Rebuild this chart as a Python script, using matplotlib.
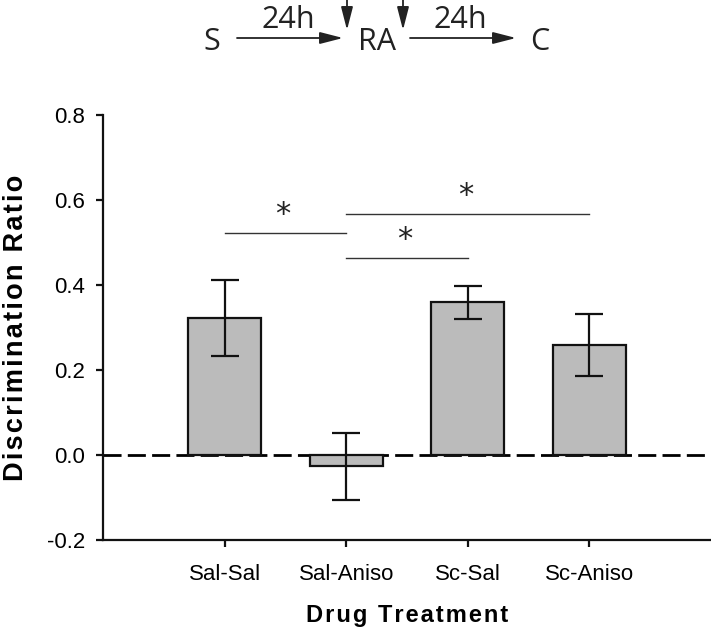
import numpy as np
import matplotlib
matplotlib.use('Agg')
import matplotlib.pyplot as plt
from matplotlib.patches import FancyArrowPatch

plt.rcParams['font.family'] = ['Liberation Sans', 'DejaVu Sans']
plt.rcParams['lines.scale_dashes'] = False

groups = ['Sal-Sal', 'Sal-Aniso', 'Sc-Sal', 'Sc-Aniso']
ratio = [0.323, -0.027, 0.359, 0.259]
sem = [0.089, 0.078, 0.039, 0.072]

# significance brackets: (from group, to group, height)
sig_pairs = [(0, 1, 0.522), (1, 3, 0.566), (1, 2, 0.463)]

W, H = 711, 633
fig = plt.figure(figsize=(W / 100, H / 100), dpi=100)
ax = fig.add_axes([103 / W, 1 - 540 / H, (711 - 103) / W, (540 - 115) / H])

x = np.arange(len(groups))
ax.axhline(0, color='black', lw=2, dashes=(13, 4.5), zorder=1)
ax.bar(x, ratio, width=0.6, color='#bbbbbb', edgecolor='#111111', linewidth=1.6, zorder=2)
ax.errorbar(x, ratio, yerr=sem, fmt='none', ecolor='#111111', elinewidth=1.6,
            capsize=10, capthick=1.6, zorder=3)

for a, b, h in sig_pairs:
    ax.plot([x[a], x[b]], [h, h], color='#333333', lw=1.0, zorder=3)
    ax.text((x[a] + x[b]) / 2 - 0.02, h + 0.01, '*', ha='center', va='bottom',
            fontsize=22, family='DejaVu Sans', color='#222222')

ax.set_xlim(-1, 4)
ax.set_ylim(-0.2, 0.8)
ax.set_yticks([-0.2, 0.0, 0.2, 0.4, 0.6, 0.8])
ax.set_yticklabels(['-0.2', '0.0', '0.2', '0.4', '0.6', '0.8'])
ax.set_xticks(x)
ax.set_xticklabels(groups)
ax.tick_params(axis='both', direction='out', length=5, width=1.6, labelsize=16, color='#111111')
ax.tick_params(axis='y', pad=8)
ax.tick_params(axis='x', pad=12)
for side in ['top', 'right']:
    ax.spines[side].set_visible(False)
for side in ['left', 'bottom']:
    ax.spines[side].set_linewidth(1.6)
    ax.spines[side].set_color('#111111')

hair = '\u200a'
ax.set_ylabel(hair.join('Discrimination Ratio'), fontsize=19.5, fontweight='bold', labelpad=13)
ax.set_xlabel(hair.join('Drug Treatment'), fontsize=17, fontweight='bold', labelpad=14)

# schematic at the top
ty = 1 - 42 / H
dfont = dict(fontsize=22, family='Open Sans', color='#222222', va='center', ha='center')
fig.text(212 / W, ty, 'S', **dfont)
fig.text(377 / W, ty, 'RA', **dfont)
fig.text(540 / W, ty, 'C', **dfont)
fig.text(288 / W, 1 - 20 / H, '24h', **dfont)
fig.text(460 / W, 1 - 20 / H, '24h', **dfont)
arr = dict(arrowstyle='-|>,head_length=0.7,head_width=0.18', mutation_scale=20,
           color='#222222', lw=1.3, shrinkA=0, shrinkB=0)
ay = 1 - 38 / H
fig.add_artist(FancyArrowPatch((237 / W, ay), (343 / W, ay), transform=fig.transFigure, **arr))
fig.add_artist(FancyArrowPatch((410 / W, ay), (516 / W, ay), transform=fig.transFigure, **arr))
for dx in [347, 403]:
    fig.add_artist(FancyArrowPatch((dx / W, 1.0), (dx / W, 1 - 30 / H),
                                   transform=fig.transFigure, **arr))

fig.savefig('out.png', dpi=100)
